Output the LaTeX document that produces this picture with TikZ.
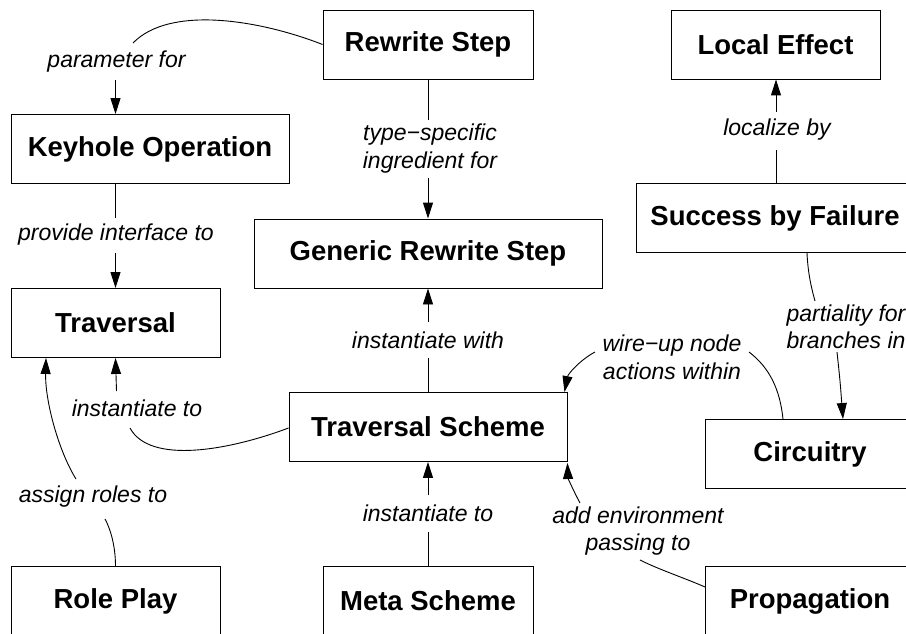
\documentclass[tikz,border=0pt]{standalone}
\usepackage{fontspec}
\setmainfont{Liberation Sans}
\usetikzlibrary{arrows.meta}
\begin{document}
\begin{tikzpicture}[x=1pt,y=-1pt,
  box/.style={draw, line width=0.9pt, minimum height=69pt, inner sep=0pt,
    font=\fontsize{27.5}{33}\selectfont\bfseries},
  lab/.style={inner sep=0pt, align=center, font=\fontsize{23}{27.5}\selectfont\itshape},
  conn/.style={line width=0.9pt},
  arr/.style={line width=0.9pt, -{Triangle[length=16pt,width=10pt]}}]
\useasboundingbox (0,0) rectangle (906,634);
\clip (0,0) rectangle (906,634);
% boxes
\node[box, minimum width=210pt] (rs) at (428,44.5) {Rewrite Step};
\node[box, minimum width=278pt] (kh) at (150,149) {Keyhole Operation};
\node[box, minimum width=348pt] (gr) at (428,253.5) {Generic Rewrite Step};
\node[box, minimum width=209pt] (tr) at (115.5,323) {Traversal};
\node[box, minimum width=209pt] (le) at (775.5,44.5) {Local Effect};
\node[box, minimum width=278pt] (sf) at (775,218) {Success by Failure};
\node[box, minimum width=278pt] (ts) at (428,427) {Traversal Scheme};
\node[box, minimum width=209pt] (ci) at (810,454) {Circuitry};
\node[box, minimum width=209pt] (rp) at (115.5,601) {Role Play};
\node[box, minimum width=210pt] (ms) at (428,601) {Meta Scheme};
\node[box, minimum width=209pt] (pg) at (810,601) {Propagation};
% labels
\node[lab] (l1) at (116.5,62) {parameter for};
\node[lab] (l2) at (430,148.5) {type−specific\\ingredient for};
\node[lab] (l3) at (116,235) {provide interface to};
\node[lab] (l4) at (777,130) {localize by};
\node[lab] (l5) at (846,327) {partiality for\\branches in};
\node[lab] (l6) at (428,340) {instantiate with};
\node[lab] (l7) at (137,408) {instantiate to};
\node[lab] (l8) at (93,497) {assign roles to};
\node[lab] (l9) at (428,513) {instantiate to};
\node[lab] (l10) at (672,357.5) {wire−up node\\actions within};
\node[lab] (l11) at (638,531) {add environment\\passing to};
% connector end points next to labels
\coordinate (e1a) at (133,43);   \coordinate (e1b) at (115.5,80);
\coordinate (e2a) at (428,120);  \coordinate (e2b) at (428,178);
\coordinate (e3a) at (115.5,218);\coordinate (e3b) at (115.5,253);
\coordinate (e4a) at (776,150);  \coordinate (e4b) at (776,112);
\coordinate (e5a) at (815,301);  \coordinate (e5b) at (837,352);
\coordinate (e6a) at (428,358);  \coordinate (e6b) at (428,322);
\coordinate (e7a) at (130,428);  \coordinate (e7b) at (116.5,391);
\coordinate (e8a) at (105,519);  \coordinate (e8b) at (76,479);
\coordinate (e9a) at (428,532);  \coordinate (e9b) at (428,495);
\coordinate (e10a) at (749,352); \coordinate (e10b) at (595,352);
\coordinate (e11a) at (640,560); \coordinate (e11b) at (580,503);
% connectors
\draw[conn] (rs.west) .. controls (260,20) and (170,5) .. (e1a);
\draw[arr] (e1b) -- (e1b |- kh.north);
\draw[conn] (rs.south) -- (e2a);
\draw[arr] (e2b) -- (gr.north);
\draw[conn] (e3a |- kh.south) -- (e3a);
\draw[arr] (e3b) -- (tr.north);
\draw[conn] (e4a |- sf.north) -- (e4a);
\draw[arr] (e4b) -- (e4b |- le.south);
\draw[conn] ([xshift=32pt]sf.south) .. controls (808,275) and (812,290) .. (e5a);
\draw[arr] (e5b) .. controls (840,380) .. ([xshift=33pt]ci.north);
\draw[conn] (ts.north) -- (e6a);
\draw[arr] (e6b) -- (gr.south);
\draw[conn] ([yshift=-1pt]ts.west) .. controls (230,450) and (150,465) .. (e7a);
\draw[arr] (e7b) -- (tr.south);
\draw[conn] (rp.north) .. controls (115.5,545) and (110,528) .. (e8a);
\draw[arr] (e8b) .. controls (58,450) and (45,400) .. ([xshift=-69.5pt]tr.south);
\draw[conn] (ms.north) -- (e9a);
\draw[arr] (e9b) -- (ts.south);
\draw[conn] ([xshift=-27pt]ci.north) .. controls (780,390) and (770,368) .. (e10a);
\draw[arr] (e10b) .. controls (580,360) and (568,374) .. ([xshift=-3pt]ts.north east);
\draw[conn] ([yshift=14pt]pg.west) .. controls (682,577) and (660,570) .. (e11a);
\draw[arr] (e11b) .. controls (573,490) and (568,478) .. ([yshift=-1pt]ts.south east);
\end{tikzpicture}
\end{document}
